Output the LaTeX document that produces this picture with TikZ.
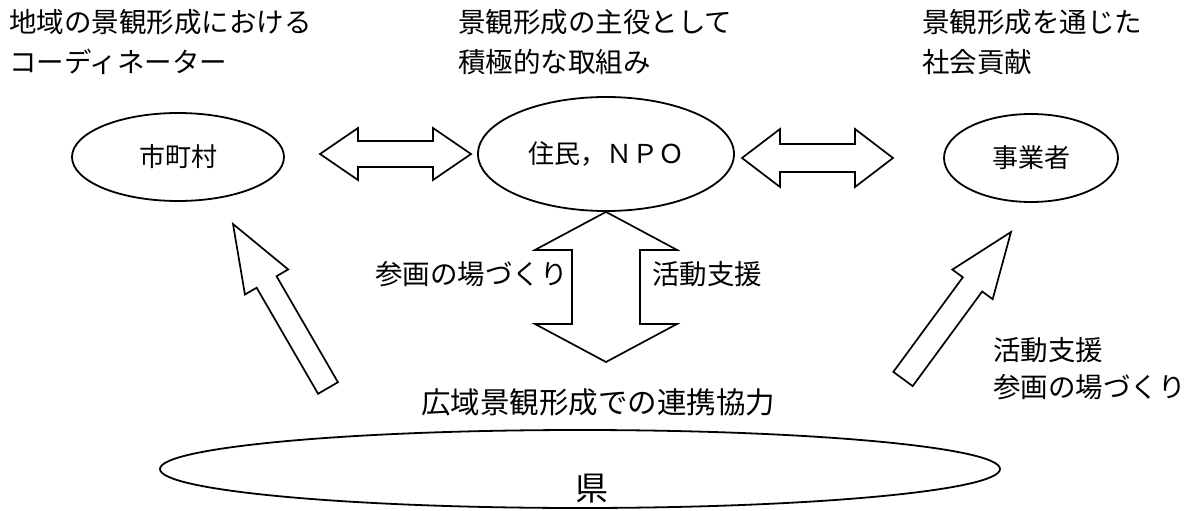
\documentclass[tikz,border=0pt]{standalone}
\usepackage{fontspec}
\newfontfamily\cjk{Noto Sans CJK JP}
\usetikzlibrary{shapes.geometric,calc}
\tikzset{
  ell/.style={draw, ellipse, line width=1.8pt, inner sep=0pt},
  blk/.style={draw, line width=1.7pt, fill=white, line join=miter},
  lbl/.style={font=\cjk\fontsize{27.5}{30}\selectfont, inner sep=0pt},
  inlbl/.style={font=\cjk\fontsize{26}{28}\selectfont},
}
% double block arrow between #1 and #2: head length #3, head half width #4, shaft half width #5
\newcommand{\DArrow}[5]{%
  \coordinate (da1) at ($(#1)!#3!(#2)$);
  \coordinate (da2) at ($(#2)!#3!(#1)$);
  \draw[blk] (#1) -- ($(da1)!#4!90:(#2)$) -- ($(da1)!#5!90:(#2)$)
    -- ($(da2)!#5!-90:(#1)$) -- ($(da2)!#4!-90:(#1)$) -- (#2)
    -- ($(da2)!#4!90:(#1)$) -- ($(da2)!#5!90:(#1)$)
    -- ($(da1)!#5!-90:(#2)$) -- ($(da1)!#4!-90:(#2)$) -- cycle;}
% single block arrow from tail #1 to tip #2
\newcommand{\SArrow}[5]{%
  \coordinate (sa1) at ($(#2)!#3!(#1)$);
  \draw[blk] ($(#1)!#5!90:(#2)$) -- ($(sa1)!#5!-90:(#1)$) -- ($(sa1)!#4!-90:(#1)$)
    -- (#2) -- ($(sa1)!#4!90:(#1)$) -- ($(sa1)!#5!90:(#1)$)
    -- ($(#1)!#5!-90:(#2)$) -- cycle;}
\begin{document}
\begin{tikzpicture}[x=1pt,y=-1pt]
\useasboundingbox[fill=white] (0,0) rectangle (1197,511);

% top texts
\node[lbl, anchor=west] (t1a) at (9,22) {地域の景観形成における};
\node[lbl, anchor=west] (t1b) at (9,62) {コーディネーター};
\node[lbl, anchor=west] (t2a) at (458,22) {景観形成の主役として};
\node[lbl, anchor=west] (t2b) at (458,62) {積極的な取組み};
\node[lbl, anchor=west] (t3a) at (922,22) {景観形成を通じた};
\node[lbl, anchor=west] (t3b) at (922,62) {社会貢献};

% actors
\node[ell, inlbl, minimum width=212pt, minimum height=88pt] (shi) at (178,157) {市町村};
\node[ell, inlbl, minimum width=256pt, minimum height=114pt] (npo) at (606,154) {住民，ＮＰＯ};
\node[ell, inlbl, minimum width=174pt, minimum height=88pt] (jig) at (1031,158) {事業者};
\node[ell, minimum width=840pt, minimum height=78pt] (ken) at (580,469) {};
\node[font=\cjk\fontsize{33}{35}\selectfont, inner sep=0pt] (kenl) at (592,489) {県};

% connector end points
\coordinate (h1a) at (320,154);
\coordinate (h1b) at (471,154);
\coordinate (h2a) at (742,158);
\coordinate (h2b) at (893,158);
\coordinate (vb) at (606,362);
\coordinate (d1t) at (328,388);
\coordinate (d1h) at (233,224);
\coordinate (d2t) at (903,379);
\coordinate (d2h) at (1011,232);

\DArrow{h1a}{h1b}{38pt}{26pt}{13pt}
\DArrow{h2a}{h2b}{38pt}{29pt}{14pt}
\DArrow{npo.south}{vb}{38pt}{71pt}{34pt}
\SArrow{d1t}{d1h}{67pt}{25pt}{11.5pt}
\SArrow{d2t}{d2h}{65pt}{25pt}{12pt}

% labels
\node[lbl, anchor=east] (l1) at (568,274) {参画の場づくり};
\node[lbl, anchor=west] (l2) at (652,274) {活動支援};
\node[lbl, anchor=west] (l3) at (993,350) {活動支援};
\node[lbl, anchor=west] (l4) at (993,387) {参画の場づくり};
\node[lbl, font=\cjk\fontsize{29.5}{31}\selectfont] (l5) at (598,402) {広域景観形成での連携協力};
\end{tikzpicture}
\end{document}
